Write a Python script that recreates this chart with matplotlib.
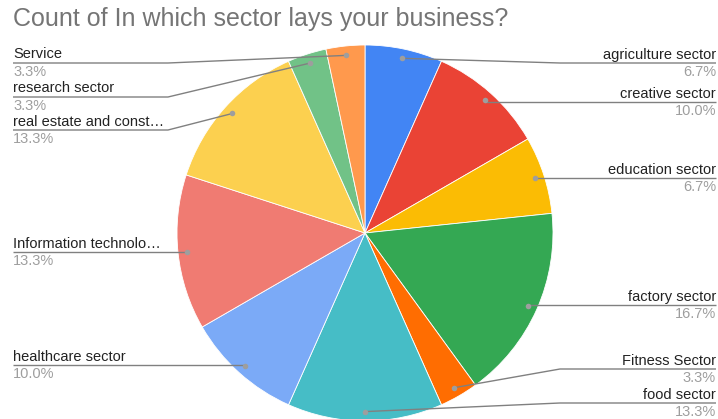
import matplotlib

matplotlib.use("Agg")
import matplotlib.pyplot as plt
import numpy as np

plt.rcParams["font.family"] = ["Liberation Sans", "DejaVu Sans"]

# responses per sector
sectors = [
    "agriculture sector", "creative sector", "education sector", "factory sector",
    "Fitness Sector", "food sector", "healthcare sector", "Information technolo\u2026",
    "real estate and const\u2026", "research sector", "Service",
]
counts = [2, 3, 2, 5, 1, 4, 3, 4, 4, 1, 1]
colors = [
    "#4285F4", "#EA4335", "#FBBC04", "#34A853", "#FF6D01", "#46BDC6",
    "#7BAAF7", "#F07B72", "#FCD04F", "#71C287", "#FF994D",
]

# label layout: side and y (px from top) of each leader line
label_side = ["R", "R", "R", "R", "R", "R", "L", "L", "L", "L", "L"]
label_line_y = [63, 102, 178, 305, 369, 403, 365, 252, 130, 97, 63]

W, H = 718, 419
cx, cy, R = 365, 233, 188

fig = plt.figure(figsize=(W / 100, H / 100), dpi=100)
ax = fig.add_axes([(cx - R) / W, (H - cy - R) / H, 2 * R / W, 2 * R / H])
wedges, _ = ax.pie(
    counts, colors=colors, startangle=90, counterclock=False, radius=1,
    wedgeprops=dict(linewidth=0.6, edgecolor="white"),
)
ax.set_aspect("auto")
ax.set_xlim(-1, 1)
ax.set_ylim(-1, 1)
ax.axis("off")
for w in wedges:
    w.set_clip_on(False)

ov = fig.add_axes([0, 0, 1, 1], zorder=3)
ov.set_xlim(0, W)
ov.set_ylim(H, 0)
ov.axis("off")

total = sum(counts)
cum = np.cumsum([0] + counts)
line_col = "#808080"
fs = 10.5
for i, (name, n) in enumerate(zip(sectors, counts)):
    mid = np.deg2rad((cum[i] + n / 2) / total * 360)
    dot = ov.transData.inverted().transform(
        ax.transData.transform((0.95 * np.sin(mid), 0.95 * np.cos(mid)))
    )
    ly = label_line_y[i]
    pct = f"{n / total * 100:.1f}%"
    if label_side[i] == "R":
        ex = max(dot[0], 560) if abs(dot[1] - ly) > 3 else dot[0]
        ov.plot([dot[0], ex, 716], [dot[1], ly, ly], color=line_col, lw=1, solid_capstyle="butt")
        ov.text(716, ly - 1.5, name, ha="right", va="bottom", fontsize=fs, color="#222222")
        ov.text(716, ly + 2, pct, ha="right", va="top", fontsize=fs, color="#9e9e9e")
    else:
        ex = min(dot[0], 168) if abs(dot[1] - ly) > 3 else dot[0]
        ov.plot([13, ex, dot[0]], [ly, ly, dot[1]], color=line_col, lw=1, solid_capstyle="butt")
        ov.text(13, ly - 1.5, name, ha="left", va="bottom", fontsize=fs, color="#222222")
        ov.text(13, ly + 2, pct, ha="left", va="top", fontsize=fs, color="#9e9e9e")
    ov.plot(dot[0], dot[1], "o", ms=4, color="#9e9e9e", mec="none")

fig.text(13 / W, 1 - 19 / H, "Count of In which sector lays your business?",
         ha="left", va="center", fontsize=18, color="#757575")

fig.savefig("out.png", dpi=100)
